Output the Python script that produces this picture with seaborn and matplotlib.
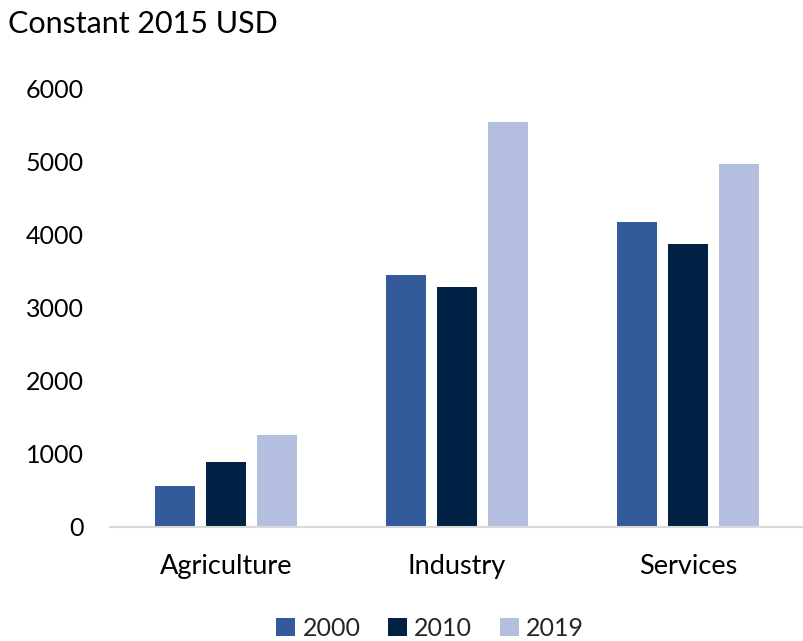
import matplotlib
matplotlib.use("Agg")
import matplotlib.pyplot as plt
import seaborn as sns
import pandas as pd

sectors = ["Agriculture", "Industry", "Services"]
years = ["2000", "2010", "2019"]
values_2000 = [560, 3440, 4170]
values_2010 = [880, 3275, 3860]
values_2019 = [1255, 5530, 4955]
y_ticks = [0, 1000, 2000, 3000, 4000, 5000, 6000]

colors = {"2000": "#335A9B", "2010": "#012145", "2019": "#B4BFDF"}

df = pd.DataFrame({
    "sector": sectors * 3,
    "year": [y for y in years for _ in sectors],
    "value": values_2000 + values_2010 + values_2019,
})

sns.set_theme(style="white")
plt.rcParams["font.family"] = ["Lato", "DejaVu Sans"]

fig = plt.figure(figsize=(8.04, 6.41), dpi=100)
ax = fig.add_axes([0.1374, 0.1786, 0.862, 0.6841])

sns.barplot(data=df, x="sector", y="value", hue="year", order=sectors,
            hue_order=years, palette=colors, saturation=1, width=0.663,
            gap=0.216, linewidth=0, ax=ax)

ax.set_xlim(-0.5, 2.5)
ax.set_ylim(0, 6000)
ax.set_yticks(y_ticks)
ax.set_yticklabels([str(t) for t in y_ticks], fontsize=18, color="#000000")
ax.tick_params(axis="x", labelsize=19.5, colors="#000000", pad=20, length=0)
ax.tick_params(axis="y", length=0, pad=19)
ax.set_xlabel("")
ax.set_ylabel("")

for side in ["top", "right", "left"]:
    ax.spines[side].set_visible(False)
ax.spines["bottom"].set_color("#D9D9D9")
ax.spines["bottom"].set_linewidth(1.5)

fig.text(0.01, 0.962, "Constant 2015 USD", fontsize=22, ha="left", va="center",
         color="#000000")

handles, labels = ax.get_legend_handles_labels()
ax.get_legend().remove()
fig.legend(handles, labels, loc="center", bbox_to_anchor=(0.535, 0.02),
           ncol=3, frameon=False, fontsize=18, handlelength=0.75,
           handleheight=0.75, handletextpad=0.3, columnspacing=1.1)

fig.savefig("out.png", dpi=100)
